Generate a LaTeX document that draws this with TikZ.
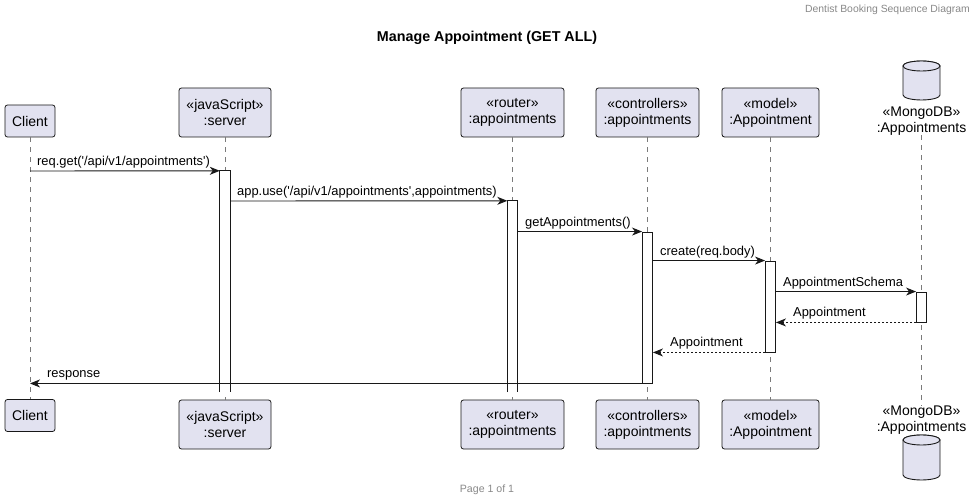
\documentclass[tikz,border=0pt]{standalone}
\usepackage{fontspec}
\setmainfont{Liberation Sans}
\usetikzlibrary{arrows.meta}
\definecolor{boxfill}{HTML}{E2E2F0}
\definecolor{ink}{HTML}{181818}
\definecolor{lifegray}{HTML}{7A7A7A}
\definecolor{notegray}{HTML}{888888}
\newcommand\sq{\XeTeXglyph\XeTeXcharglyph"0027\relax}
\tikzset{
  part/.style={draw=ink, fill=boxfill, rounded corners=2.5pt, line width=0.8pt, align=center,
    font=\fontsize{14}{16}\selectfont, inner sep=0pt},
  life/.style={draw=lifegray, line width=0.7pt, dash pattern=on 5pt off 5pt},
  actbar/.style={fill=white, minimum width=10pt, inner sep=0pt},
  actframe/.style={draw=ink, line width=0.9pt},
  msg/.style={draw=ink, line width=0.9pt, -{Stealth[length=10pt, width=8pt, inset=3pt]}},
  ret/.style={msg, dash pattern=on 2pt off 2pt},
  mlabel/.style={anchor=base west, inner sep=0pt, font=\fontsize{12.9}{14}\selectfont},
  cyl/.style={draw=ink, fill=boxfill, line width=0.9pt}
}
\begin{document}
\begin{tikzpicture}[x=1pt,y=-1pt]
\useasboundingbox (0,0) rectangle (980,502);
% header, title, footer
\node[anchor=base east, inner sep=0pt, text=notegray, font=\fontsize{10.4}{12}\selectfont] (hdr) at (970,12.5) {Dentist Booking Sequence Diagram};
\node[inner sep=0pt, font=\bfseries\fontsize{14.3}{16}\selectfont] (title) at (487,38) {Manage Appointment (GET ALL)};
\node[inner sep=0pt, text=notegray, font=\fontsize{10.6}{12}\selectfont] (ftr) at (487,490) {Page 1 of 1};

% participants top
\node[part, minimum width=50pt, minimum height=32pt] (cliT) at (30,121) {Client};
\node[part, minimum width=92pt, minimum height=49pt] (srvT) at (225,112.5) {«javaScript»\\:server};
\node[part, minimum width=103pt, minimum height=49pt] (rtrT) at (512.5,112.5) {«router»\\:appointments};
\node[part, minimum width=103pt, minimum height=49pt] (ctlT) at (647.5,112.5) {«controllers»\\:appointments};
\node[part, minimum width=97pt, minimum height=49pt] (mdlT) at (770.5,112.5) {«model»\\:Appointment};
\node[align=center, inner sep=0pt, font=\fontsize{14}{16}\selectfont] (dbT) at (921.5,121) {«MongoDB»\\:Appointments};
% participants bottom
\node[part, minimum width=50pt, minimum height=32pt] (cliB) at (30,415.5) {Client};
\node[part, minimum width=92pt, minimum height=49pt] (srvB) at (225,424.5) {«javaScript»\\:server};
\node[part, minimum width=103pt, minimum height=49pt] (rtrB) at (512.5,424.5) {«router»\\:appointments};
\node[part, minimum width=103pt, minimum height=49pt] (ctlB) at (647.5,424.5) {«controllers»\\:appointments};
\node[part, minimum width=97pt, minimum height=49pt] (mdlB) at (770.5,424.5) {«model»\\:Appointment};
\node[align=center, inner sep=0pt, font=\fontsize{14}{16}\selectfont] (dbB) at (921.5,420) {«MongoDB»\\:Appointments};

% cylinders
\path[cyl] (903,66) -- (903,95) arc[start angle=180, end angle=360, x radius=18.5pt, y radius=5pt] -- (940,66) arc[start angle=0, end angle=180, x radius=18.5pt, y radius=5pt] -- cycle;
\draw[cyl] (921.5,66) ellipse[x radius=18.5pt, y radius=5pt];
\path[cyl] (903,440) -- (903,475) arc[start angle=180, end angle=360, x radius=18.5pt, y radius=5pt] -- (940,440) arc[start angle=0, end angle=180, x radius=18.5pt, y radius=5pt] -- cycle;
\draw[cyl] (921.5,440) ellipse[x radius=18.5pt, y radius=5pt];

% lifelines
\draw[life] (cliT.south) -- (cliB.north);
\draw[life] (srvT.south) -- (srvB.north);
\draw[life] (rtrT.south) -- (rtrB.north);
\draw[life] (ctlT.south) -- (ctlB.north);
\draw[life] (mdlT.south) -- (mdlB.north);
\draw[life] (dbT.south) -- (dbB.north);

% activation bars
\node[actbar, minimum height=221pt] (aS) at (225,281.5) {};
\draw[actframe] (aS.south west) -- (aS.north west) -- (aS.north east) -- (aS.south east);
\node[actbar, minimum height=191pt] (aR) at (512.5,296.5) {};
\draw[actframe] (aR.south west) -- (aR.north west) -- (aR.north east) -- (aR.south east);
\node[actbar, actframe, minimum height=151pt] (aC) at (647.5,307.5) {};
\node[actbar, actframe, minimum height=91pt] (aM) at (770.5,306.5) {};
\node[actbar, actframe, minimum height=30pt] (aD) at (921.5,307) {};

% messages
\coordinate (m1) at (30,171);
\draw[msg] (m1) -- (aS.north west);
\node[mlabel] (l1) at (37,166) {req.get(\sq/api/v1/appointments\sq)};

\draw[msg] (aS.east |- 0,201) coordinate (m2) -- (aR.north west);
\node[mlabel] (l2) at (237,196) {app.use(\sq/api/v1/appointments\sq,appointments)};

\draw[msg] (aR.east |- aC.north) coordinate (m3) -- (aC.north west);
\node[mlabel] (l3) at (525,227) {getAppointments()};

\draw[msg] (aC.east |- aM.north) coordinate (m4) -- (aM.north west);
\node[mlabel] (l4) at (660,256) {create(req.body)};

\draw[msg] (aM.east |- aD.north) coordinate (m5) -- (aD.north west);
\node[mlabel] (l5) at (783,287) {AppointmentSchema};

\draw[ret] (aD.south west) -- (aM.east |- aD.south);
\node[mlabel] (l6) at (793,317) {Appointment};

\draw[ret] (aM.south west) -- (aC.east |- aM.south);
\node[mlabel] (l7) at (670,347) {Appointment};

\draw[msg] (aC.south west) -- (cliT.south |- aC.south);
\node[mlabel] (l8) at (47,378) {response};
\end{tikzpicture}
\end{document}
